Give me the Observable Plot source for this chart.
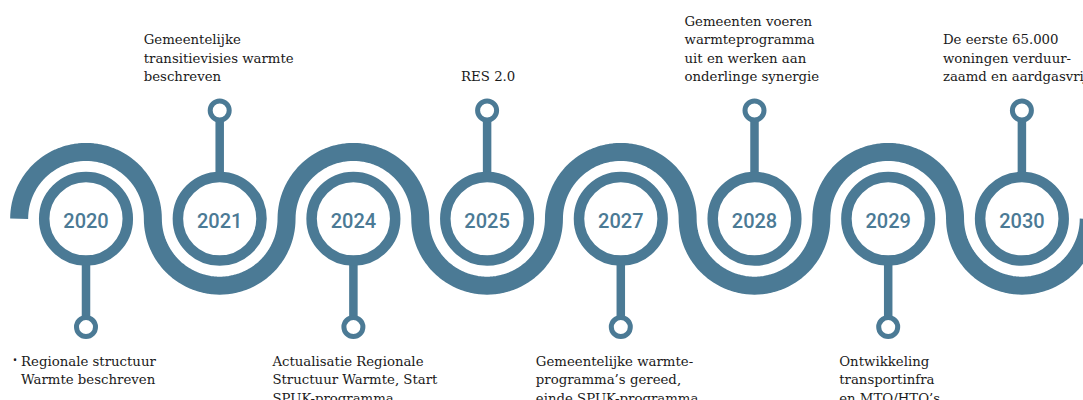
<!DOCTYPE html>
<html>
<head>
<meta charset="utf-8">
<script src="https://cdn.jsdelivr.net/npm/d3@7"></script>
<script src="https://cdn.jsdelivr.net/npm/@observablehq/plot@0.6"></script>
<style>
  html, body { margin: 0; padding: 0; background: #fff; }
  #chart svg { display: block; }
</style>
</head>
<body>
<div id="chart"></div>
<script>
// ---- data ----
const years = ["2020", "2021", "2024", "2025", "2027", "2028", "2029", "2030"];
const sides = ["below", "above", "below", "above", "below", "above", "below", "above"];
const labels = [
  "Regionale structuur\nWarmte beschreven",
  "Gemeentelijke\ntransitievisies warmte\nbeschreven",
  "Actualisatie Regionale\nStructuur Warmte, Start\nSPUK-programma",
  "RES 2.0",
  "Gemeentelijke warmte-\nprogramma’s gereed,\neinde SPUK-programma",
  "Gemeenten voeren\nwarmteprogramma\nuit en werken aan\nonderlinge synergie",
  "Ontwikkeling\ntransportinfra\nen MTO/HTO’s",
  "De eerste 65.000\nwoningen verduur-\nzaamd en aardgasvrij"
];
const bullets = [true, false, false, false, false, false, false, false];

// ---- layout (pixels relative to each milestone) ----
const labelOffsetPx = [-65, -76, -81, -26, -85, -70, -49, -79];

const W = 1083, H = 400;
const unit = 133.7;          // px between milestones
const cx0 = 85.5, cy0 = 218.3; // px of first milestone centre
const color = "#4b7a95";
const font = "'DejaVu Serif', serif";

const items = years.map((y, i) => ({
  i, year: y, side: sides[i], label: labels[i], bullet: bullets[i],
  lx: i + labelOffsetPx[i] / unit
}));

// wave: alternating semicircles of radius 0.5 centred on each milestone
const wave = [];
items.forEach(d => {
  const sgn = d.side === "below" ? 1 : -1; // arc on the opposite side of the stem
  const n = 60;
  for (let k = 0; k <= n; k++) {
    const t = Math.PI - Math.PI * k / n;
    wave.push({x: d.i + 0.5 * Math.cos(t), y: sgn * 0.5 * Math.sin(t)});
  }
});

const ringY = 0.81;
const stems = items.map(d => ({x: d.i, y1: 0, y2: d.side === "above" ? ringY : -ringY}));

const chart = Plot.plot({
  width: W, height: H,
  margin: 0,
  x: {domain: [-cx0 / unit, (W - cx0) / unit], axis: null},
  y: {domain: [-(H - cy0) / unit, cy0 / unit], axis: null},
  style: {background: "#fff"},
  marks: [
    Plot.line(wave, {x: "x", y: "y", stroke: color, strokeWidth: 18, strokeLinecap: "butt", strokeLinejoin: "round"}),
    Plot.link(stems, {x1: "x", x2: "x", y1: "y1", y2: "y2", stroke: color, strokeWidth: 8.5, strokeLinecap: "butt"}),
    Plot.dot(stems, {x: "x", y: "y2", r: 9.5, stroke: color, strokeWidth: 5, fill: "#fff"}),
    Plot.dot(items, {x: "i", y: 0, r: 41.8, stroke: color, strokeWidth: 10.5, fill: "#fff"}),
    Plot.text(items, {x: "i", y: 0, text: "year", fill: color, fontSize: 20, fontWeight: 500,
      fontFamily: "Roboto", dy: 3}),
    Plot.text(items.filter(d => d.side === "above"), {x: "lx", y: 1.03, text: "label", textAnchor: "start",
      lineAnchor: "bottom", fontSize: 13.3, lineHeight: 1.39, fill: "#1a1a1a", fontFamily: font}),
    Plot.text(items.filter(d => d.side === "below"), {x: "lx", y: -1.0, text: "label", textAnchor: "start",
      lineAnchor: "top", fontSize: 13.3, lineHeight: 1.39, fill: "#1a1a1a", fontFamily: font}),
    Plot.text(items.filter(d => d.bullet), {x: "lx", y: -1.0, text: () => "•", textAnchor: "end", dx: -4, dy: 3,
      lineAnchor: "top", fontSize: 12, fill: "#1a1a1a", fontFamily: "Roboto"})
  ]
});
document.getElementById("chart").appendChild(chart);
</script>
</body>
</html>
